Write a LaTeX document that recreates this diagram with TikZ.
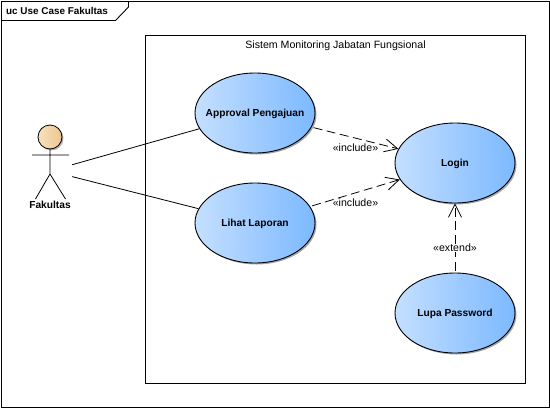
\documentclass[tikz,border=0pt]{standalone}
\usepackage{fontspec}
\setmainfont{Liberation Sans}
\usetikzlibrary{shapes.geometric,arrows.meta,shadows}
\definecolor{ucleft}{HTML}{C4DFFF}
\definecolor{ucright}{HTML}{7CB9FF}
\definecolor{headleft}{HTML}{F8E0BC}
\definecolor{headright}{HTML}{EDC690}
\tikzset{
  usecase/.style={ellipse,draw=black,line width=0.9pt,minimum width=120pt,minimum height=80pt,inner sep=-12pt,
    text height=8pt,text depth=1pt,
    left color=ucleft,right color=ucright,font=\fontsize{10.2}{12}\selectfont\bfseries,
    drop shadow={shadow xshift=1.5pt,shadow yshift=-1.5pt,opacity=.35,fill=black}},
  assoc/.style={draw=black,line width=0.8pt},
  dep/.style={draw=black,line width=0.8pt,dash pattern=on 9pt off 4.5pt,shorten <=2pt,-{Straight Barb[length=13pt,width=13pt,line width=0.8pt]}},
  deplabel/.style={font=\fontsize{10.6}{12}\selectfont,inner sep=0pt},
  box/.style={draw=black,line width=0.9pt},
}
\begin{document}
\begin{tikzpicture}[x=1pt,y=-1pt]
\useasboundingbox (0,0) rectangle (550,408);
\fill[white] (0,0) rectangle (550,408);
\node[box,minimum width=547.5pt,minimum height=405.5pt,inner sep=0pt,anchor=north west] (frame) at (1.25,1.25) {};
\draw[box] (1.25,20.5) -- (115.5,20.5) -- (128.5,7) -- (128.5,1.25);
\node[anchor=west,inner sep=0pt,font=\fontsize{9.9}{12}\selectfont\bfseries] (title) at (6,10.7) {uc Use Case Fakultas};
\node[box,minimum width=380pt,minimum height=348pt,inner sep=0pt,anchor=north west] (system) at (145,35) {};
\node[inner sep=0pt,font=\fontsize{10.6}{12}\selectfont] (systitle) at (335.5,45.5) {Sistem Monitoring Jabatan Fungsional};
% actor
\node[circle,draw=black,line width=0.8pt,minimum size=24pt,inner sep=0pt,left color=headleft,right color=headright,
  drop shadow={shadow xshift=1.5pt,shadow yshift=-1.5pt,opacity=.3,fill=black}] (head) at (50,137) {};
\coordinate (hip) at (50,174);
\coordinate (armL) at (32,155);
\coordinate (armR) at (69,155);
\coordinate (legL) at (35.5,199);
\coordinate (legR) at (65.5,199);
\draw[assoc] (head.south) -- (hip) (armL) -- (armR) (legL) -- (hip) -- (legR);
\node[inner sep=0pt,minimum width=44pt,minimum height=60pt] (actor) at (50,171) {};
\node[inner sep=0pt,font=\fontsize{10.2}{12}\selectfont\bfseries] (actorname) at (50,205) {Fakultas};
% use cases
\node[usecase] (approval) at (255,113) {Approval Pengajuan};
\node[usecase] (lihat) at (255,223) {Lihat Laporan};
\node[usecase] (login) at (455,163) {Login};
\node[usecase] (lupa) at (455,313) {Lupa Password};
% connectors
\draw[assoc] (actor) -- (approval);
\draw[assoc] (actor) -- (lihat);
\draw[dep] (approval) -- (login);
\draw[dep] (lihat) -- (login);
\draw[dep] (lupa) -- (login);
\node[deplabel] (inc1) at (355.5,148) {«include»};
\node[deplabel] (inc2) at (355.5,203) {«include»};
\node[deplabel,fill=white,inner xsep=1pt] (ext) at (455,248) {«extend»};
\end{tikzpicture}
\end{document}
